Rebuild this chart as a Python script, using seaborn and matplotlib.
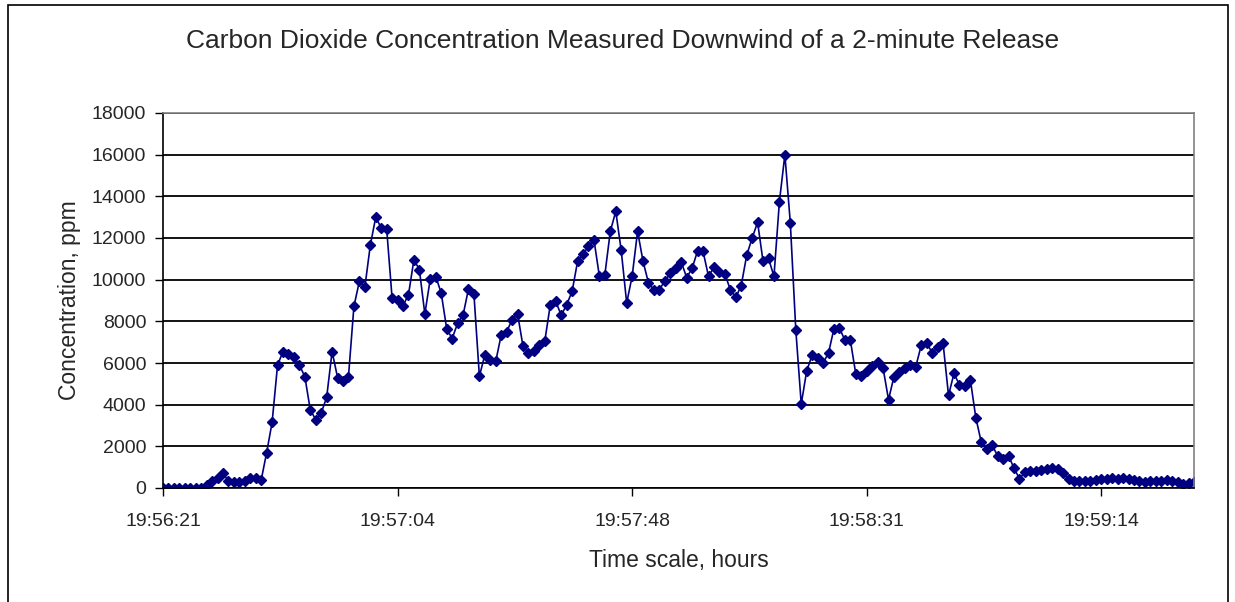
import numpy as np
import matplotlib
matplotlib.use("Agg")
import matplotlib.pyplot as plt
import seaborn as sns
from matplotlib.patches import Rectangle

sns.set_theme(style="white")
plt.rcParams['font.family'] = ['Liberation Sans', 'DejaVu Sans']

# CO2 samples, roughly one per second starting 19:56:21
ppm = [0, 0, 0, 0, 0, 0, 0, 0,
       150, 320, 500, 720, 320, 290, 300, 350, 500, 480, 380,
       1700, 3150, 5900, 6550, 6450, 6300, 5900, 5350, 3750, 3280, 3600, 4350, 6550, 5300, 5150, 5350,
       8720, 9920, 9630, 11650, 13000, 12480, 12450, 9100, 9040, 8750, 9280, 10960, 10480, 8350,
       10050, 10150, 9360, 7650, 7170, 7900, 8290, 9550, 9300, 5360, 6400, 6160, 6080, 7350, 7500,
       8080, 8350, 6800, 6480, 6590, 6850, 7070,
       8800, 8960, 8290, 8800, 9440, 10880, 11230, 11600, 11920, 10160, 10240, 12320, 13280, 11400,
       8880, 10160, 12320, 10880, 9840, 9520,
       9520, 9950, 10300, 10550, 10850, 10100, 10550, 11380, 11360, 10160, 10600, 10350, 10270, 9520,
       9150, 9720, 11170, 12000, 12750, 10880, 11020, 10160, 13750, 16000, 12720, 7600, 4030, 5620, 6380,
       6240, 6000, 6480, 7650, 7680, 7100, 7100, 5470, 5400, 5600, 5850, 6050, 5760, 4240, 5350, 5560,
       5740, 5920, 5830, 6850, 6950, 6500, 6750, 6950,
       4450, 5500, 4950, 4900, 5200, 3380, 2200, 1850, 2050, 1550, 1400, 1550, 950, 450, 750, 820, 830,
       870, 900, 950, 900, 740, 420,
       350, 320, 330, 350, 380, 420, 450, 480, 450, 470, 430, 400, 350, 300, 320, 350, 330, 380, 320,
       280, 200, 250, 300]
sample = np.arange(len(ppm))

tick_pos = [0, 43, 86, 129, 172]
tick_labels = ["19:56:21", "19:57:04", "19:57:48", "19:58:31", "19:59:14"]

navy = "#000080"

fig = plt.figure(figsize=(12.35, 6.02), dpi=100)
ax = fig.add_axes([163 / 1235, 1 - 488 / 602, (1194 - 163) / 1235, (488 - 113) / 602])

sns.lineplot(x=sample, y=ppm, ax=ax, color=navy, lw=1.2, marker="D",
             markersize=5.3, markeredgecolor=navy, markeredgewidth=1)

ax.set_xlim(0, len(ppm) - 1)
ax.set_ylim(0, 18000)
ax.set_yticks(range(0, 18001, 2000))
ax.set_xticks(tick_pos)
ax.set_xticklabels(tick_labels)
ax.yaxis.grid(True, color="black", lw=1.3)
ax.set_axisbelow(True)
ax.tick_params(axis="both", labelsize=14, direction="out", length=6, width=1,
               color="black", left=True, bottom=True)
ax.tick_params(axis="x", pad=12)
ax.tick_params(axis="y", pad=6)
for s in ["left", "bottom"]:
    ax.spines[s].set_color("black")
    ax.spines[s].set_linewidth(1.2)
for s in ["top", "right"]:
    ax.spines[s].set_color("#808080")
    ax.spines[s].set_linewidth(1.2)

ax.set_xlabel("Time scale, hours", fontsize=16.5, labelpad=14)
ax.set_ylabel("Concentration, ppm", fontsize=16.5, labelpad=8)
fig.text(0.504, 1 - 41 / 602, "Carbon Dioxide Concentration Measured Downwind of a 2-minute Release",
         ha="center", va="center", fontsize=19)

# outer chart frame
fig.add_artist(Rectangle((8 / 1235, -0.01), (1228 - 8) / 1235, 1 - 5 / 602 + 0.01,
                         transform=fig.transFigure, fill=False, ec="black", lw=1.2))

fig.savefig("out.png", dpi=100)
